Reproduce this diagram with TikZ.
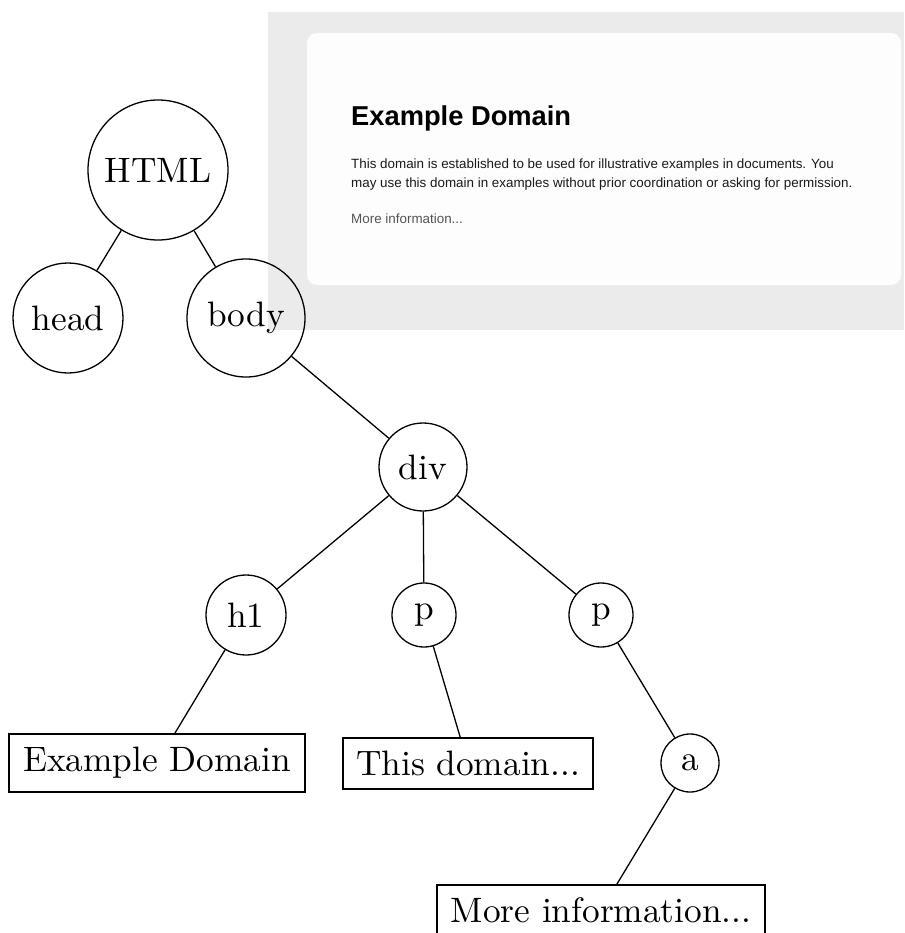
\documentclass[tikz,border=0pt]{standalone}
\usepackage{fontspec}
\newfontfamily\webfont{Liberation Sans}
\newfontfamily\treeface{lmroman10-regular}[Extension=.otf]
\definecolor{panelgray}{HTML}{EBEBEB}
\definecolor{cardwhite}{HTML}{FDFDFD}
\definecolor{webtext}{HTML}{1A1A1A}
\definecolor{weblink}{HTML}{555555}
\begin{document}
\begin{tikzpicture}[x=1pt,y=-1pt,
  treefont/.style={font=\treeface\fontsize{35.3}{40}\selectfont},
  tnode/.style={circle,draw,line width=1.3pt,inner sep=0pt,treefont},
  leafbox/.style={rectangle,draw,line width=1.3pt,inner sep=0pt,treefont},
  edge/.style={line width=1.3pt},
  webline/.style={anchor=base west,inner sep=0pt,font=\webfont\fontsize{13.4}{16}\selectfont,text=webtext}]
\useasboundingbox (0,0) rectangle (904,933);
\clip (0,0) rectangle (904,933);
\fill[white] (0,0) rectangle (904,933);
% screenshot of the web page
\fill[panelgray] (268,12) rectangle (904,330);
\fill[cardwhite,rounded corners=10pt] (307,33) rectangle (901,285);
\node[anchor=base west,inner sep=0pt,font=\webfont\bfseries\fontsize{27.3}{32}\selectfont,text=black] (title) at (351,126) {Example Domain};
\node[webline] (para1) at (351,168.5) {This domain is established to be used for illustrative examples in documents. You};
\node[webline] (para2) at (351,187.5) {may use this domain in examples without prior coordination or asking for permission.};
\node[webline,text=weblink] (more) at (351,223) {More information...};
% tree
\node[tnode,minimum size=140pt] (html) at (158,170) {HTML};
\node[tnode,minimum size=110pt] (head) at (68,318) {head};
\node[tnode,minimum size=118pt] (body) at (246,318) {body};
\node[tnode,minimum size=88pt] (div) at (423,467) {div};
\node[tnode,minimum size=80pt] (h1) at (246,615) {h1};
\node[tnode,minimum size=64pt] (p1) at (424,615) {p};
\node[tnode,minimum size=64pt] (p2) at (601,615) {p};
\node[tnode,minimum size=58pt] (a) at (690,763) {a};
\node[leafbox,minimum width=296pt,minimum height=58pt] (b1) at (157,763) {Example Domain};
\node[leafbox,minimum width=250pt,minimum height=51pt] (b2) at (468,763.5) {This domain...};
\node[leafbox,minimum width=328pt,minimum height=51pt] (b3) at (601,910.5) {More information...};
\draw[edge] (html) -- (head);
\draw[edge] (html) -- (body);
\draw[edge] (body) -- (div);
\draw[edge] (div) -- (h1);
\draw[edge] (div) -- (p1);
\draw[edge] (div) -- (p2);
\draw[edge] (h1) -- (b1);
\draw[edge] (p1) -- (b2);
\draw[edge] (p2) -- (a);
\draw[edge] (a) -- (b3);
\end{tikzpicture}
\end{document}
